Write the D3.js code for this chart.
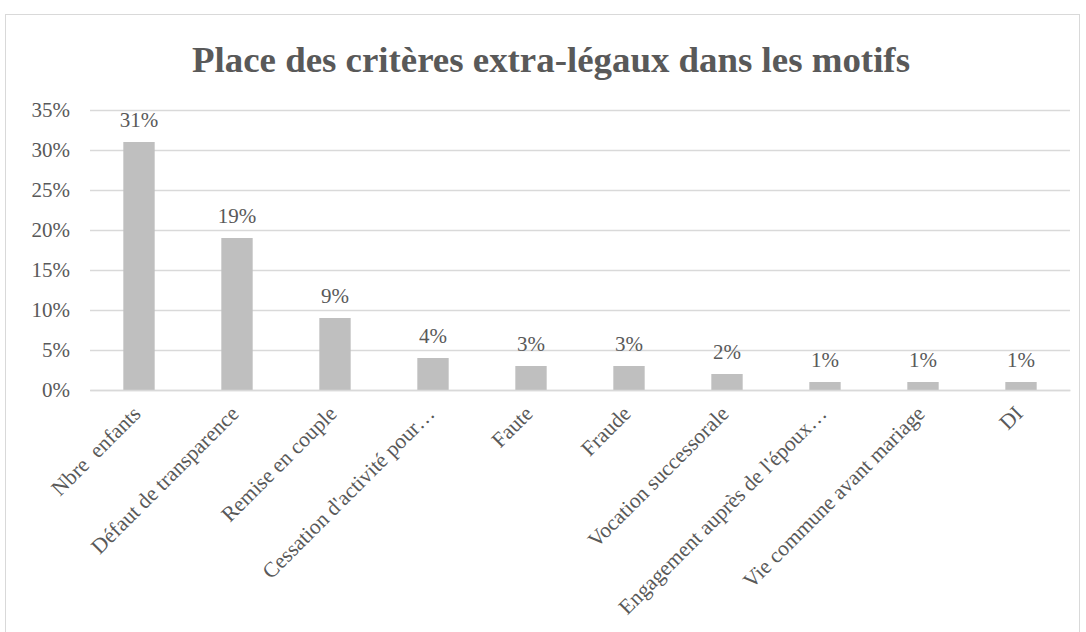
<!DOCTYPE html>
<html><head><meta charset="utf-8">
<script src="https://cdn.jsdelivr.net/npm/d3@7"></script>
<style>body{margin:0;background:#fff}svg{display:block}text{white-space:pre}</style>
</head><body>
<script>
const categories = ["Nbre  enfants","Défaut de transparence","Remise en couple","Cessation d'activité pour…","Faute","Fraude","Vocation successorale","Engagement auprès de l'époux…","Vie commune avant mariage","DI"];
const values = [0.31,0.19,0.09,0.04,0.03,0.03,0.02,0.01,0.01,0.01];
const yTicks = [0,0.05,0.10,0.15,0.20,0.25,0.30,0.35];
const title = "Place des critères extra-légaux dans les motifs";

const W=1086,H=632;
const svg=d3.select("body").append("svg").attr("width",W).attr("height",H);
const font="'Liberation Serif', 'DejaVu Serif', serif";
svg.append("rect").attr("x",5.5).attr("y",14.5).attr("width",1074).attr("height",640).attr("fill","#fff").attr("stroke","#d9d9d9");

const x=d3.scaleBand().domain(categories).range([90,1070]).paddingInner(0.68).paddingOuter(0.34);
const y=d3.scaleLinear().domain([0,0.35]).range([390,110]);

svg.append("text").attr("x",551).attr("y",72).attr("text-anchor","middle")
 .attr("font-family",font).attr("font-weight","bold").attr("font-size",35).attr("fill","#595959")
 .attr("textLength",718).attr("lengthAdjust","spacingAndGlyphs").text(title);

const ga=svg.append("g").attr("transform","translate(90,0)")
 .call(d3.axisLeft(y).tickValues(yTicks).tickFormat(d3.format(".0%")).tickSize(-980).tickPadding(20));
ga.select(".domain").remove();
ga.selectAll("line").attr("stroke","#d9d9d9").attr("stroke-width",1.5);
ga.selectAll("text").attr("font-family",font).attr("font-size",21).attr("fill","#595959");

svg.selectAll("rect.bar").data(values).join("rect").attr("class","bar")
 .attr("x",(d,i)=>x(categories[i])).attr("y",d=>y(d)).attr("width",x.bandwidth()).attr("height",d=>y(0)-y(d)).attr("fill","#bfbfbf");

svg.selectAll("text.val").data(values).join("text").attr("class","val")
 .attr("x",(d,i)=>x(categories[i])+x.bandwidth()/2).attr("y",d=>y(d)-15).attr("text-anchor","middle")
 .attr("font-family",font).attr("font-size",21).attr("fill","#595959").text(d=>d3.format(".0%")(d));

const gx=svg.append("g").attr("transform","translate(0,390)").call(d3.axisBottom(x).tickSize(0).tickPadding(0));
gx.select(".domain").attr("stroke","#d9d9d9").attr("stroke-width",1.5);
gx.selectAll("text").attr("font-family",font).attr("font-size",21.5).attr("fill","#595959")
 .attr("text-anchor","end").attr("dy",0).attr("transform","translate(3,25) rotate(-45)");
</script>
</body></html>
